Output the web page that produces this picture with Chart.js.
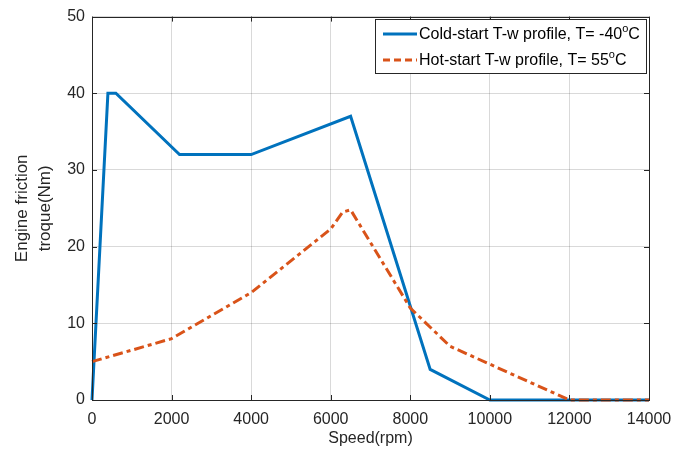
<!DOCTYPE html>
<html>
<head>
<meta charset="utf-8">
<script src="https://cdn.jsdelivr.net/npm/chart.js@4/dist/chart.umd.min.js"></script>
<style>
	html, body { margin: 0; padding: 0; background: #ffffff; }
	#wrap { width: 691px; height: 452px; }
</style>
</head>
<body>
<div id="wrap"><canvas id="chart" width="691" height="452"></canvas></div>
<script>

// values
const coldSpeed = [ 0, 400, 600, 2200, 4000, 6500, 8500, 10000, 14000 ];
const coldTorque = [ 0, 40, 40, 32, 32, 37, 4, 0, 0 ];

const hotSpeed = [ 0, 2000, 4000, 6000, 6300, 6500, 8000, 9000, 12000, 14000 ];
const hotTorque = [ 5, 8, 14, 22.3, 24.5, 24.8, 12, 7, 0, 0 ];

const seriesLabels = [ 'Cold-start T-w profile, T= -40°C', 'Hot-start T-w profile, T= 55°C' ];
const xTicks = [ 0, 2000, 4000, 6000, 8000, 10000, 12000, 14000 ];
const yTicks = [ 0, 10, 20, 30, 40, 50 ];

const FONT = 'Liberation Sans, Arial, sans-serif';
const INK = '#262626';
const BLUE = '#0072BD';
const ORANGE = '#D95319';

const toPoints = ( xs, ys ) => xs.map( ( x, i ) => ( { x: x, y: ys[ i ] } ) );

// MATLAB style box with inward ticks on every side
const boxPlugin = {
	id: 'box',
	afterDatasetsDraw ( chart ) {

		const { ctx, chartArea: a, scales } = chart;
		const len = 5;

		ctx.save();
		ctx.strokeStyle = INK;
		ctx.lineWidth = 1;
		ctx.beginPath();

		xTicks.forEach( v => {

			const px = Math.round( scales.x.getPixelForValue( v ) ) + 0.5;
			ctx.moveTo( px, a.bottom );
			ctx.lineTo( px, a.bottom - len );
			ctx.moveTo( px, a.top );
			ctx.lineTo( px, a.top + len );

		} );

		yTicks.forEach( v => {

			const py = Math.round( scales.y.getPixelForValue( v ) ) + 0.5;
			ctx.moveTo( a.left, py );
			ctx.lineTo( a.left + len, py );
			ctx.moveTo( a.right, py );
			ctx.lineTo( a.right - len, py );

		} );

		ctx.stroke();
		ctx.strokeRect( Math.round( a.left ) + 0.5, Math.round( a.top ) + 0.5, Math.round( a.right - a.left ), Math.round( a.bottom - a.top ) );
		ctx.restore();

	},
	afterDraw ( chart ) {

		// legend, drawn so the degree sign can be a raised "o"
		const { ctx } = chart;
		const bx = 375.5, by = 19.5, bw = 271, bh = 54;

		ctx.save();
		ctx.fillStyle = '#ffffff';
		ctx.fillRect( bx, by, bw, bh );
		ctx.strokeStyle = INK;
		ctx.lineWidth = 1;
		ctx.strokeRect( bx, by, bw, bh );

		chart.data.datasets.forEach( ( ds, i ) => {

			const y = 34 + i * 26;

			ctx.strokeStyle = ds.borderColor;
			ctx.lineWidth = 3;
			ctx.setLineDash( i === 0 ? [] : [ 7, 4 ] );
			ctx.beginPath();
			ctx.moveTo( 383, y );
			ctx.lineTo( 417, y );
			ctx.stroke();
			ctx.setLineDash( [] );

			const parts = ds.label.split( '°' );
			ctx.fillStyle = '#000000';
			ctx.textBaseline = 'middle';
			ctx.font = '16px ' + FONT;
			let x = 419;
			ctx.fillText( parts[ 0 ], x, y + 1 );
			x += ctx.measureText( parts[ 0 ] ).width;
			ctx.font = '11px ' + FONT;
			ctx.fillText( 'o', x, y - 5 );
			x += ctx.measureText( 'o' ).width;
			ctx.font = '16px ' + FONT;
			ctx.fillText( parts[ 1 ], x, y + 1 );

		} );

		ctx.restore();

	}
};

const config = {
	type: 'line',
	data: {
		datasets: [ {
			label: seriesLabels[ 0 ],
			data: toPoints( coldSpeed, coldTorque ),
			borderColor: BLUE,
			borderWidth: 3,
			pointRadius: 0,
			tension: 0,
			clip: false,
			order: 1
		}, {
			label: seriesLabels[ 1 ],
			data: toPoints( hotSpeed, hotTorque ),
			borderColor: ORANGE,
			borderWidth: 3,
			borderDash: [ 10, 4, 4, 4 ],
			pointRadius: 0,
			tension: 0,
			clip: false,
			order: 0
		} ]
	},
	options: {
		responsive: false,
		animation: false,
		events: [],
		layout: {
			padding: { top: 13, right: 42, left: 0, bottom: 0 }
		},
		plugins: {
			legend: { display: false },
			tooltip: { enabled: false }
		},
		scales: {
			x: {
				type: 'linear',
				min: 0,
				max: 14000,
				afterBuildTicks: axis => { axis.ticks = xTicks.map( v => ( { value: v } ) ); },
				afterFit: axis => { axis.height = 52; },
				grid: { color: 'rgba(0,0,0,0.15)', drawTicks: false },
				border: { display: false },
				ticks: {
					color: INK,
					padding: 10,
					maxRotation: 0,
					font: { family: FONT, size: 16 },
					callback: v => String( v )
				},
				title: {
					display: true,
					text: 'Speed(rpm)',
					color: INK,
					padding: { top: 0, bottom: 4 },
					font: { family: FONT, size: 16 }
				}
			},
			y: {
				min: 0,
				max: 50,
				afterBuildTicks: axis => { axis.ticks = yTicks.map( v => ( { value: v } ) ); },
				afterFit: axis => { axis.width = 92; },
				grid: { color: 'rgba(0,0,0,0.15)', drawTicks: false },
				border: { display: false },
				ticks: {
					color: INK,
					padding: 7,
					font: { family: FONT, size: 16 }
				},
				title: {
					display: true,
					text: [ 'Engine friction', 'troque(Nm)' ],
					color: INK,
					padding: { top: 10, bottom: 0 },
					font: { family: FONT, size: 17, lineHeight: 1.4 }
				}
			}
		}
	},
	plugins: [ boxPlugin ]
};

new Chart( document.getElementById( 'chart' ), config );

</script>
</body>
</html>
